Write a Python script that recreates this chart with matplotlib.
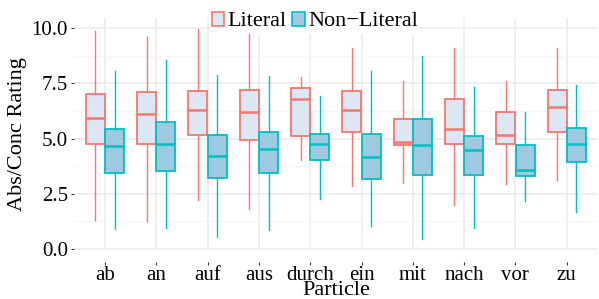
import matplotlib
matplotlib.use("Agg")
import matplotlib.pyplot as plt
from matplotlib.patches import Patch

particles = ['ab', 'an', 'auf', 'aus', 'durch', 'ein', 'mit', 'nach', 'vor', 'zu']

# box stats: whisker low, Q1, median, Q3, whisker high
lit_lo = [1.31, 1.28, 2.22, 1.81, 4.02, 2.87, 2.97, 1.98, 2.96, 3.13]
lit_q1 = [4.74, 4.74, 5.16, 4.94, 5.10, 5.29, 4.73, 4.74, 4.74, 5.29]
lit_med = [5.95, 6.13, 6.31, 6.21, 6.78, 6.28, 4.84, 5.45, 5.18, 6.43]
lit_q3 = [7.02, 7.10, 7.14, 7.20, 7.28, 7.17, 5.90, 6.81, 6.21, 7.22]
lit_hi = [9.85, 9.59, 9.97, 9.82, 7.78, 9.12, 7.61, 9.12, 7.61, 9.12]

non_lo = [0.91, 0.97, 0.54, 0.85, 2.28, 1.03, 0.44, 0.97, 2.19, 1.69]
non_q1 = [3.46, 3.53, 3.20, 3.45, 4.02, 3.17, 3.34, 3.34, 3.32, 3.94]
non_med = [4.65, 4.75, 4.22, 4.53, 4.75, 4.17, 4.71, 4.50, 3.57, 4.74]
non_q3 = [5.44, 5.74, 5.18, 5.29, 5.20, 5.22, 5.88, 5.11, 4.73, 5.47]
non_hi = [8.05, 8.56, 7.90, 7.84, 6.93, 8.07, 8.75, 7.34, 6.19, 7.43]

yticks = [0.0, 2.5, 5.0, 7.5, 10.0]

plt.rcParams['font.family'] = ['Liberation Serif', 'DejaVu Serif']

fig = plt.figure(figsize=(5.99, 2.99), dpi=100)
ax = fig.add_axes([0.1239, 0.1639, 0.8736, 0.7759])


def stats(lo, q1, med, q3, hi):
    return [dict(whislo=a, q1=b, med=c, q3=d, whishi=e, fliers=[])
            for a, b, c, d, e in zip(lo, q1, med, q3, hi)]


groups = [
    (stats(lit_lo, lit_q1, lit_med, lit_q3, lit_hi), -0.1875, '#F8766D', '#DDE7F3'),
    (stats(non_lo, non_q1, non_med, non_q3, non_hi), 0.1875, '#00BFC4', '#9ECAE1'),
]
for st, off, edge, fill in groups:
    pos = [i + off for i in range(len(particles))]
    ax.bxp(st, positions=pos, widths=0.37, showfliers=False, showcaps=False,
           patch_artist=True, manage_ticks=False,
           boxprops=dict(facecolor=fill, edgecolor=edge, linewidth=1.3),
           whiskerprops=dict(color=edge, linewidth=1.0),
           medianprops=dict(color=edge, linewidth=1.8),
           zorder=3)

ax.set_xlim(-0.6, len(particles) - 0.4)
ax.set_ylim(-0.04, 10.46)
ax.set_xticks(range(len(particles)))
ax.set_xticklabels(particles)
ax.set_yticks(yticks)
ax.set_yticklabels(['%.1f' % v for v in yticks])
ax.set_yticks([1.25, 3.75, 6.25, 8.75], minor=True)

ax.grid(True, which='major', color='#EBEBEB', linewidth=1.1, zorder=0)
ax.grid(True, which='minor', axis='y', color='#F6F6F6', linewidth=0.8, zorder=0)
ax.set_axisbelow(True)
for s in ax.spines.values():
    s.set_visible(False)
ax.spines['bottom'].set_position(('outward', 9))

ax.tick_params(axis='both', which='major', labelsize=15, length=2.5,
               color='#333333', width=0.8, pad=2)
ax.tick_params(axis='y', which='minor', length=0)
ax.tick_params(axis='x', pad=0)

ax.set_ylabel('Abs/Conc Rating', fontsize=16, labelpad=3)
ax.set_xlabel('Particle', fontsize=16, labelpad=-3)

handles = [Patch(facecolor='#DDE7F3', edgecolor='#F8766D', linewidth=1.2),
           Patch(facecolor='#9ECAE1', edgecolor='#00BFC4', linewidth=1.2)]
leg = ax.legend(handles, ['Literal', 'Non\u2212Literal'], ncol=2, loc='center',
                bbox_to_anchor=(0.46, 0.985), fontsize=16, frameon=True,
                handlelength=0.55, handleheight=0.6, handletextpad=0.15,
                columnspacing=0.25, borderpad=0.1, borderaxespad=0)
leg.get_frame().set_facecolor('white')
leg.get_frame().set_edgecolor('none')
leg.get_frame().set_alpha(1)
leg.set_zorder(5)

fig.savefig('out.png', dpi=100)
